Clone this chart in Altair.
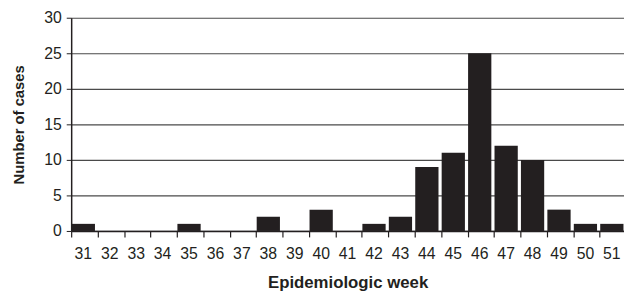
import altair as alt
import pandas as pd

weeks = [str(w) for w in range(31, 52)]
cases = [1, 0, 0, 0, 1, 0, 0, 2, 0, 3, 0, 1, 2, 9, 11, 25, 12, 10, 3, 1, 1]

df = pd.DataFrame({"week": weeks, "cases": cases})

ink = "#231f20"
font = "Liberation Sans"

chart = alt.Chart(df).mark_bar(color=ink).encode(
    x=alt.X("week:N", sort=weeks,
            scale=alt.Scale(paddingInner=0.12, paddingOuter=0.02),
            axis=alt.Axis(title="Epidemiologic week", labelAngle=0, bandPosition=0,
                          domainColor=ink, domainWidth=1.5, tickColor=ink, tickSize=6,
                          tickWidth=1.2, labelPadding=9, labelFontSize=16,
                          titleFontSize=17, titlePadding=13, grid=False)),
    y=alt.Y("cases:Q", scale=alt.Scale(domain=[0, 30], nice=False),
            axis=alt.Axis(title="Number of cases", values=[0, 5, 10, 15, 20, 25, 30],
                          domainColor=ink, domainWidth=1.5, tickColor=ink, tickSize=5,
                          labelPadding=5, labelFontSize=16, titleFontSize=15,
                          titlePadding=18, gridColor="#4a4a4a", gridWidth=1.2,
                          gridOpacity=1)),
).properties(
    width=560, height=216,
    autosize=alt.AutoSizeParams(type="none"),
    padding={"left": 64, "top": 8, "right": 0, "bottom": 62},
).configure_axis(
    labelFont=font, titleFont=font, labelColor=ink, titleColor=ink,
    titleFontWeight="bold",
).configure_view(stroke=None)

chart.save("out.html", embed_options={"renderer": "svg", "actions": False})
